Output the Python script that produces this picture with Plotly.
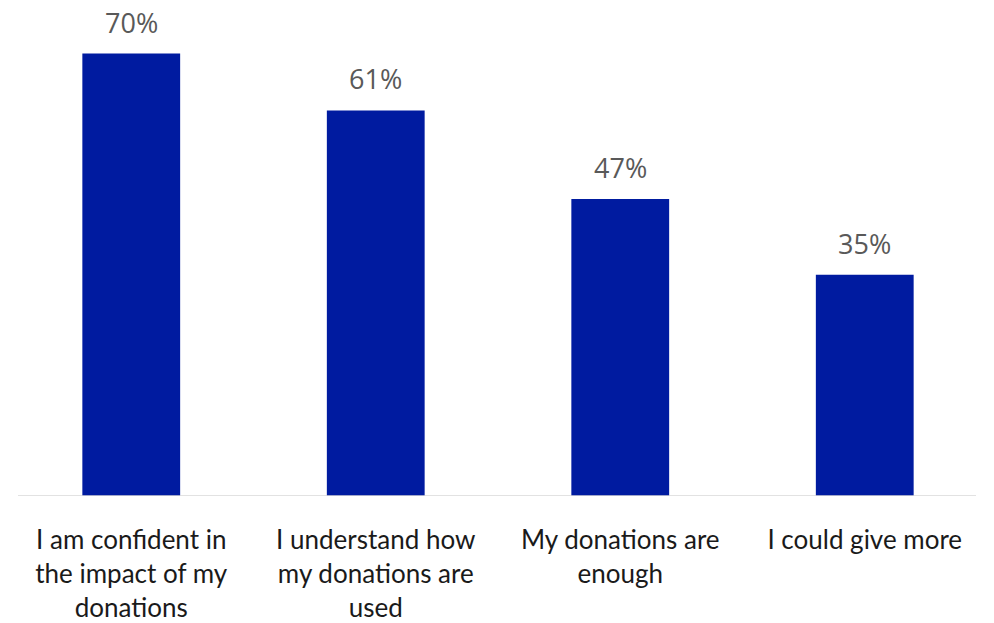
import plotly.graph_objects as go

# Survey statements and share of respondents agreeing (%)
categories = [
    "I am confident in<br>the impact of my<br>donations",
    "I understand how<br>my donations are<br>used",
    "My donations are<br>enough",
    "I could give more",
]
values = [70, 61, 47, 35]
value_labels = [f"{v}%" for v in values]

BAR_COLOR = "#001BA0"
x_pos = list(range(len(categories)))

fig = go.Figure(
    go.Bar(
        x=x_pos,
        y=values,
        width=0.4,
        marker=dict(color=BAR_COLOR, line=dict(width=0)),
        hoverinfo="skip",
    )
)

# Percentage labels floating above each bar
for xi, v, lab in zip(x_pos, values, value_labels):
    fig.add_annotation(
        x=xi, y=v, text=lab, showarrow=False,
        xref="x", yref="y", yanchor="bottom", yshift=11,
        font=dict(family="Open Sans", size=27, color="#595959"),
    )

fig.update_layout(
    width=994,
    height=623,
    margin=dict(l=9, r=7, t=20, b=126.5),
    paper_bgcolor="white",
    plot_bgcolor="white",
    showlegend=False,
    xaxis=dict(
        tickmode="array",
        tickvals=x_pos,
        ticktext=categories,
        range=[-0.5, 3.5],
        showgrid=False,
        zeroline=False,
        showline=False,
        ticks="",
        automargin=False,
        ticklabelstandoff=26,
        tickfont=dict(family="Lato", size=26, color="#1a1a1a"),
    ),
    yaxis=dict(
        range=[0, 75.3],
        visible=False,
        automargin=False,
    ),
    shapes=[
        dict(
            type="line", xref="paper", yref="y",
            x0=(18 - 9) / 978, x1=(976 - 9) / 978, y0=0, y1=0,
            line=dict(color="#d9d9d9", width=1.5),
        )
    ],
)

fig.write_html("out.html")
